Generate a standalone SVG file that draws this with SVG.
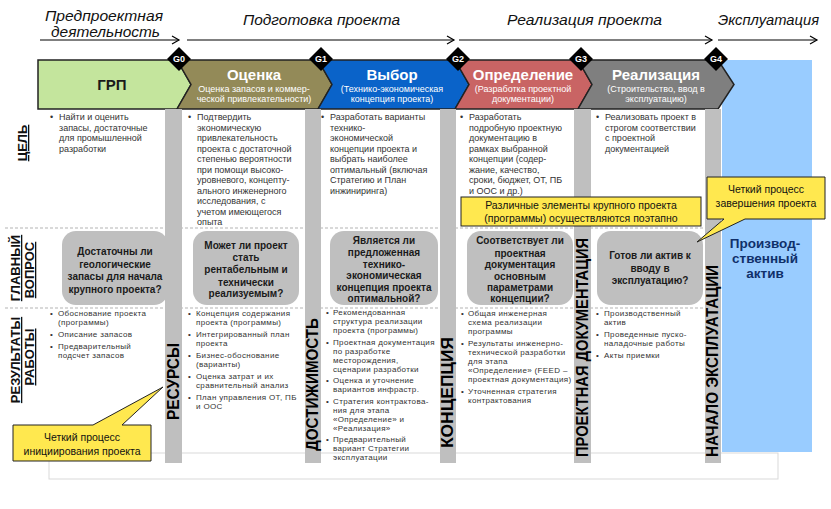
<svg xmlns="http://www.w3.org/2000/svg" width="831" height="509" viewBox="0 0 831 509">
<defs>
<style>
text{font-family:"Liberation Sans",Arial,sans-serif}
.hdr{font-size:15px;font-style:italic;fill:#111}
.ch{stroke:#222;stroke-width:1.5;stroke-linejoin:miter}
.ct{font-size:15px;font-weight:bold;fill:#fff;text-anchor:middle}
.cs{font-size:9px;fill:#fff;text-anchor:middle}
.bar{fill:#bfbfbf}
.vl{font-size:16px;font-weight:bold;fill:#000}
.rl{font-size:13px;font-weight:bold;fill:#111;text-anchor:middle;text-decoration:underline}
.goal{font-size:9px;fill:#333}
.res{font-size:8px;fill:#333;letter-spacing:0.35px}
.q{fill:#bfbfbf}
.qt{font-size:10px;font-weight:bold;fill:#1a1a1a;text-anchor:middle}
.call{fill:#ffe84f;stroke:#222;stroke-width:1}
.callt{font-size:10.5px;fill:#111;text-anchor:middle}
.dash{stroke:#b3b3b3;stroke-width:1;stroke-dasharray:3 2}
.gl{font-size:9px;font-weight:bold;fill:#fff;text-anchor:middle}
.gd{fill:#000}
.ln{stroke:#000;stroke-width:1;marker-end:url(#arr)}
</style>
<marker id="arr" markerWidth="10" markerHeight="10" refX="8" refY="5" orient="auto" markerUnits="userSpaceOnUse"><path d="M1,1 L8,5 L1,9" fill="none" stroke="#000" stroke-width="1.2"/></marker>
</defs>
<rect width="831" height="509" fill="#fff"/>

<g id="header">
<text class="hdr" x="45" y="21" textLength="118" lengthAdjust="spacingAndGlyphs">Предпроектная</text>
<text class="hdr" x="51" y="37" textLength="109" lengthAdjust="spacingAndGlyphs">деятельность</text>
<text class="hdr" x="243" y="25" textLength="157" lengthAdjust="spacingAndGlyphs">Подготовка проекта</text>
<text class="hdr" x="507" y="25" textLength="155" lengthAdjust="spacingAndGlyphs">Реализация проекта</text>
<text class="hdr" x="718" y="25" textLength="101" lengthAdjust="spacingAndGlyphs">Эксплуатация</text>
</g>
<g id="connectors">
<line class="ln" x1="40" y1="40" x2="179" y2="40"/>
<line class="ln" x1="187" y1="40" x2="454" y2="40"/>
<line class="ln" x1="459" y1="40" x2="712" y2="40"/>
<line class="ln" x1="718" y1="40" x2="817" y2="40"/>
</g>

<rect id="operation-area" x="722" y="60" width="90" height="392" fill="#99ccff"/>

<g id="phase-grr">
<path class="ch" d="M38,60 L177,60 L191,84.5 L177,109 L38,109 Z" fill="#c4e59d"/>
<text x="112" y="90" font-size="15" font-weight="bold" fill="#1a1a1a" text-anchor="middle">ГРП</text>
</g>
<g id="phase-otsenka">
<path class="ch" d="M177,60 L318,60 L332,84.5 L318,109 L177,109 L191,84.5 Z" fill="#938a58"/>
<text class="ct" x="254" y="80">Оценка</text>
<text class="cs" x="254" y="92">Оценка запасов и коммер-</text>
<text class="cs" x="254" y="102">ческой привлекательности)</text>
</g>
<g id="phase-vybor">
<path class="ch" d="M318,60 L455,60 L469,84.5 L455,109 L318,109 L332,84.5 Z" fill="#0a63c9"/>
<text class="ct" x="392" y="80">Выбор</text>
<text class="cs" x="392" y="92">(Технико-экономическая</text>
<text class="cs" x="392" y="102">концепция проекта)</text>
</g>
<g id="phase-opredelenie">
<path class="ch" d="M455,60 L578,60 L592,84.5 L578,109 L455,109 L469,84.5 Z" fill="#c96464"/>
<text class="ct" x="523" y="80">Определение</text>
<text class="cs" x="523" y="92">(Разработка проектной</text>
<text class="cs" x="523" y="102">документации)</text>
</g>
<g id="phase-realizatsiya">
<path class="ch" d="M578,60 L718,60 L734,84.5 L718,109 L578,109 L592,84.5 Z" fill="#7f7f7f"/>
<text class="ct" x="656" y="80">Реализация</text>
<text class="cs" x="656" y="92">(Строительство, ввод в</text>
<text class="cs" x="656" y="102">эксплуатацию)</text>
</g>

<g id="gate-g0"><path class="gd" d="M179,47 L191,59 L179,71 L167,59 Z"/><text class="gl" x="179" y="62">G0</text></g>
<g id="gate-g1"><path class="gd" d="M321,47 L333,59 L321,71 L309,59 Z"/><text class="gl" x="321" y="62">G1</text></g>
<g id="gate-g2"><path class="gd" d="M458,47 L470,59 L458,71 L446,59 Z"/><text class="gl" x="458" y="62">G2</text></g>
<g id="gate-g3"><path class="gd" d="M581,47 L593,59 L581,71 L569,59 Z"/><text class="gl" x="581" y="62">G3</text></g>
<g id="gate-g4"><path class="gd" d="M716,47 L728,59 L716,71 L704,59 Z"/><text class="gl" x="716" y="62">G4</text></g>

<g id="grid">
<line class="dash" x1="5" y1="228" x2="720" y2="228"/>
<line class="dash" x1="5" y1="308" x2="720" y2="308"/>
<rect x="49" y="453" width="729" height="26" fill="none" stroke="#d9d9d9"/>
</g>

<g id="row-labels">
<text class="rl" transform="translate(27,143) rotate(-90)">ЦЕЛЬ</text>
<text class="rl" transform="translate(20,268) rotate(-90)">ГЛАВНЫЙ</text>
<text class="rl" transform="translate(34,270) rotate(-90)">ВОПРОС</text>
<text class="rl" transform="translate(20,360) rotate(-90)">РЕЗУЛЬТАТЫ</text>
<text class="rl" transform="translate(34,357) rotate(-90)">РАБОТЫ</text>
</g>

<g id="goal-texts">
<text class="goal"><tspan x="50" y="120">•</tspan><tspan x="59" y="120">Найти и оценить</tspan><tspan x="59" y="130.5">запасы, достаточные</tspan><tspan x="59" y="141">для промышленной</tspan><tspan x="59" y="151.5">разработки</tspan></text>
<text class="goal"><tspan x="188" y="120">•</tspan><tspan x="197" y="120">Подтвердить</tspan><tspan x="197" y="130.5">экономическую</tspan><tspan x="197" y="141">привлекательность</tspan><tspan x="197" y="151.5">проекта с достаточной</tspan><tspan x="197" y="162">степенью вероятности</tspan><tspan x="197" y="172.5">при помощи высоко-</tspan><tspan x="197" y="183">уровневого, концепту-</tspan><tspan x="197" y="193.5">ального инженерного</tspan><tspan x="197" y="204">исследования, с</tspan><tspan x="197" y="214.5">учетом имеющегося</tspan><tspan x="197" y="225">опыта</tspan></text>
<text class="goal"><tspan x="321" y="120">•</tspan><tspan x="330" y="120">Разработать варианты</tspan><tspan x="330" y="130.5">технико-</tspan><tspan x="330" y="141">экономической</tspan><tspan x="330" y="151.5">концепции проекта и</tspan><tspan x="330" y="162">выбрать наиболее</tspan><tspan x="330" y="172.5">оптимальный (включая</tspan><tspan x="330" y="183">Стратегию и План</tspan><tspan x="330" y="193.5">инжиниринга)</tspan></text>
<text class="goal"><tspan x="460" y="120">•</tspan><tspan x="469" y="120">Разработать</tspan><tspan x="469" y="130.5">подробную проектную</tspan><tspan x="469" y="141">документацию в</tspan><tspan x="469" y="151.5">рамках выбранной</tspan><tspan x="469" y="162">концепции (содер-</tspan><tspan x="469" y="172.5">жание, качество,</tspan><tspan x="469" y="183">сроки, бюджет, ОТ, ПБ</tspan><tspan x="469" y="193.5">и ООС и др.)</tspan></text>
<text class="goal"><tspan x="596" y="120">•</tspan><tspan x="605" y="120">Реализовать проект в</tspan><tspan x="605" y="130.5">строгом соответствии</tspan><tspan x="605" y="141">с проектной</tspan><tspan x="605" y="151.5">документацией</tspan></text>
</g>

<g id="result-texts">
<text class="res"><tspan x="50" y="316">•</tspan><tspan x="58" y="316">Обоснование проекта</tspan><tspan x="58" y="325">(программы)</tspan><tspan x="50" y="337">•</tspan><tspan x="58" y="337">Описание запасов</tspan><tspan x="50" y="349">•</tspan><tspan x="58" y="349">Предварительный</tspan><tspan x="58" y="358">подсчет запасов</tspan></text>
<text class="res"><tspan x="188" y="316">•</tspan><tspan x="196" y="316">Концепция содержания</tspan><tspan x="196" y="325">проекта (программы)</tspan><tspan x="188" y="337">•</tspan><tspan x="196" y="337">Интегрированный план</tspan><tspan x="196" y="346">проекта</tspan><tspan x="188" y="358">•</tspan><tspan x="196" y="358">Бизнес-обоснование</tspan><tspan x="196" y="367">(варианты)</tspan><tspan x="188" y="379">•</tspan><tspan x="196" y="379">Оценка затрат и их</tspan><tspan x="196" y="388">сравнительный анализ</tspan><tspan x="188" y="400">•</tspan><tspan x="196" y="400">План управления ОТ, ПБ</tspan><tspan x="196" y="409">и ООС</tspan></text>
<text class="res"><tspan x="326" y="315">•</tspan><tspan x="333" y="315">Рекомендованная</tspan><tspan x="333" y="324">структура реализации</tspan><tspan x="333" y="333">проекта (программы)</tspan><tspan x="326" y="344.5">•</tspan><tspan x="333" y="344.5">Проектная документация</tspan><tspan x="333" y="353.5">по разработке</tspan><tspan x="333" y="362.5">месторождения,</tspan><tspan x="333" y="371.5">сценарии разработки</tspan><tspan x="326" y="383">•</tspan><tspan x="333" y="383">Оценка и уточнение</tspan><tspan x="333" y="392">вариантов инфрастр.</tspan><tspan x="326" y="403.5">•</tspan><tspan x="333" y="403.5">Стратегия контрактова-</tspan><tspan x="333" y="412.5">ния для этапа</tspan><tspan x="333" y="421.5">«Определение» и</tspan><tspan x="333" y="430.5">«Реализация»</tspan><tspan x="326" y="442">•</tspan><tspan x="333" y="442">Предварительный</tspan><tspan x="333" y="451">вариант Стратегии</tspan><tspan x="333" y="460">эксплуатации</tspan></text>
<text class="res"><tspan x="461" y="316">•</tspan><tspan x="468" y="316">Общая инженерная</tspan><tspan x="468" y="325">схема реализации</tspan><tspan x="468" y="334">программы</tspan><tspan x="461" y="346">•</tspan><tspan x="468" y="346">Результаты инженерно-</tspan><tspan x="468" y="355">технической разработки</tspan><tspan x="468" y="364">для этапа</tspan><tspan x="468" y="373">«Определение» (FEED –</tspan><tspan x="468" y="382">проектная документация)</tspan><tspan x="461" y="394">•</tspan><tspan x="468" y="394">Уточненная стратегия</tspan><tspan x="468" y="403">контрактования</tspan></text>
<text class="res"><tspan x="596" y="316">•</tspan><tspan x="604" y="316">Производственный</tspan><tspan x="604" y="325">актив</tspan><tspan x="596" y="337">•</tspan><tspan x="604" y="337">Проведенные пуско-</tspan><tspan x="604" y="346">наладочные работы</tspan><tspan x="596" y="358">•</tspan><tspan x="604" y="358">Акты приемки</tspan></text>
</g>

<g id="q1"><rect class="q" x="62" y="231" width="106" height="74" rx="14"/>
<text class="qt"><tspan x="115" y="255">Достаточны ли</tspan><tspan x="115" y="267.5">геологические</tspan><tspan x="115" y="280">запасы для начала</tspan><tspan x="115" y="292.5">крупного проекта?</tspan></text></g>
<g id="q2"><rect class="q" x="193" y="231" width="106" height="74" rx="14"/>
<text class="qt"><tspan x="246" y="249">Может ли проект</tspan><tspan x="246" y="261">стать</tspan><tspan x="246" y="273">рентабельным и</tspan><tspan x="246" y="285.5">технически</tspan><tspan x="246" y="297">реализуемым?</tspan></text></g>
<g id="q3"><rect class="q" x="330" y="231" width="108" height="74" rx="14"/>
<text class="qt"><tspan x="384" y="244">Является ли</tspan><tspan x="384" y="256">предложенная</tspan><tspan x="384" y="267.5">технико-</tspan><tspan x="384" y="279">экономическая</tspan><tspan x="384" y="291">концепция проекта</tspan><tspan x="384" y="302">оптимальной?</tspan></text></g>
<g id="q4"><rect class="q" x="467" y="231" width="106" height="74" rx="14"/>
<text class="qt"><tspan x="520" y="244">Соответствует ли</tspan><tspan x="520" y="256.5">проектная</tspan><tspan x="520" y="268">документация</tspan><tspan x="520" y="279.5">основным</tspan><tspan x="520" y="291">параметрами</tspan><tspan x="520" y="302">концепции?</tspan></text></g>
<g id="q5"><rect class="q" x="597" y="231" width="106" height="74" rx="14"/>
<text class="qt" font-weight="normal"><tspan x="650" y="259">Готов ли актив к</tspan><tspan x="650" y="272">вводу в</tspan><tspan x="650" y="284">эксплуатацию?</tspan></text></g>

<g id="asset">
<text font-size="13.5" font-weight="bold" fill="#10306a" text-anchor="middle"><tspan x="765" y="248">Производ-</tspan><tspan x="765" y="263">ственный</tspan><tspan x="765" y="278">актив</tspan></text>
</g>

<g id="milestone-bars">
<rect class="bar" x="165" y="109" width="17" height="354"/>
<rect class="bar" x="305" y="109" width="16" height="354"/>
<rect class="bar" x="440" y="109" width="16" height="354"/>
<rect class="bar" x="574" y="109" width="17" height="354"/>
<rect class="bar" x="705" y="109" width="16" height="354"/>
<text class="vl" transform="translate(179,420) rotate(-90)" textLength="77" lengthAdjust="spacingAndGlyphs">РЕСУРСЫ</text>
<text class="vl" transform="translate(318,451) rotate(-90)" textLength="133" lengthAdjust="spacingAndGlyphs">ДОСТИЖИМОСТЬ</text>
<text class="vl" transform="translate(453,448) rotate(-90)" textLength="111" lengthAdjust="spacingAndGlyphs">КОНЦЕПЦИЯ</text>
<text class="vl" transform="translate(588,457) rotate(-90)" textLength="219" lengthAdjust="spacingAndGlyphs">ПРОЕКТНАЯ ДОКУМЕНТАЦИЯ</text>
<text class="vl" transform="translate(718,457) rotate(-90)" textLength="192" lengthAdjust="spacingAndGlyphs">НАЧАЛО ЭКСПЛУАТАЦИИ</text>
</g>

<g id="callout-stages">
<rect class="call" x="461" y="197" width="240" height="29"/>
<text class="callt"><tspan x="581" y="209">Различные элементы крупного проекта</tspan><tspan x="581" y="222">(программы) осуществляются поэтапно</tspan></text>
</g>
<g id="callout-finish">
<path class="call" d="M707,177 L825,177 L825,219 L745,219 L697,242 L724,219 L707,219 Z"/>
<text class="callt"><tspan x="766" y="193">Четкий процесс</tspan><tspan x="766" y="207">завершения проекта</tspan></text>
</g>
<g id="callout-start">
<path class="call" d="M13,425 L93,425 L163,387 L122,425 L151,425 L151,461 L13,461 Z"/>
<text class="callt" font-size="11"><tspan x="82" y="441">Четкий процесс</tspan><tspan x="82" y="455">инициирования проекта</tspan></text>
</g>
</svg>
